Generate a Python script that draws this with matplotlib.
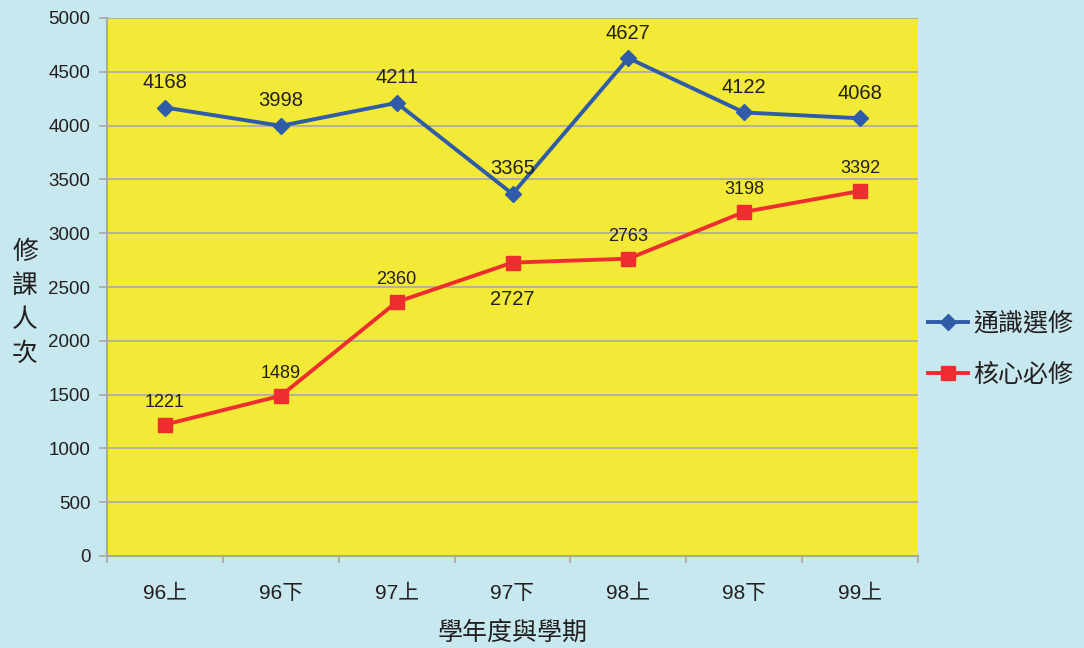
import matplotlib
matplotlib.use("Agg")
import matplotlib.pyplot as plt
import numpy as np

categories = ["96上", "96下", "97上", "97下", "98上", "98下", "99上"]
general = [4168, 3998, 4211, 3365, 4627, 4122, 4068]
core = [1221, 1489, 2360, 2727, 2763, 3198, 3392]
series_names = ["通識選修", "核心必修"]
core_label_below = [False, False, False, True, False, False, False]

FONT = ["Liberation Sans", "Noto Sans CJK TC", "DejaVu Sans"]
CJK = ["Noto Sans CJK TC", "DejaVu Sans"]
plt.rcParams["font.family"] = FONT

BG = "#C6E8EE"
PLOT = "#F2EA36"
BLUE = "#2F5BA8"
RED = "#EE2D30"
GRID = "#A8A8A8"
TXT = "#231F20"

fig = plt.figure(figsize=(10.84, 6.48), dpi=100, facecolor=BG)
ax = fig.add_axes([107/1084, 1-556/648, (918-107)/1084, (556-18)/648])
ax.set_facecolor(PLOT)

x = np.arange(len(categories))
l1, = ax.plot(x, general, color=BLUE, lw=2.8, marker="D", ms=8.5, mfc=BLUE, mec=BLUE, label=series_names[0], zorder=3)
l2, = ax.plot(x, core, color=RED, lw=2.8, marker="s", ms=10, mfc=RED, mec=RED, label=series_names[1], zorder=3)

for xi, v in zip(x, general):
    ax.annotate(str(v), (xi, v), xytext=(0, 14), textcoords="offset points",
                ha="center", va="baseline", fontsize=14.5, color=TXT, zorder=5)
for xi, v, below in zip(x, core, core_label_below):
    if below:
        ax.annotate(str(v), (xi, v), xytext=(0, -20), textcoords="offset points",
                    ha="center", va="top", fontsize=14.5, color=TXT, zorder=5)
    else:
        ax.annotate(str(v), (xi, v), xytext=(0, 13), textcoords="offset points",
                    ha="center", va="baseline", fontsize=13, color=TXT, zorder=5)

ax.set_xlim(-0.5, len(categories) - 0.5)
ax.set_ylim(0, 5000)
ax.set_yticks(np.arange(0, 5001, 500))
ax.set_xticks(x)
ax.set_xticklabels(categories, fontsize=15, color=TXT)
ax.set_xticks(np.arange(-0.5, len(categories), 1), minor=True)
ax.tick_params(axis="x", which="major", length=0, pad=20)
ax.tick_params(axis="x", which="minor", length=5, color=GRID, width=1.2)
ax.tick_params(axis="y", length=6, color=GRID, width=1.2, labelsize=13.5, labelcolor=TXT, pad=6)

ax.grid(axis="y", color=GRID, lw=1.2, zorder=1)
ax.set_axisbelow(True)
for s in ["top", "right"]:
    ax.spines[s].set_visible(False)
for s in ["left", "bottom"]:
    ax.spines[s].set_color(GRID)
    ax.spines[s].set_linewidth(1.5)

fig.text(25/1084, 1-303/648, "修\n課\n人\n次", fontsize=18.5, color=TXT, ha="center", va="center",
         linespacing=1.4, family=CJK, fontweight="medium")
fig.text(513/1084, 1-633/648, "學年度與學期", fontsize=18, color=TXT, ha="center", va="center",
         family=CJK)

leg = fig.legend(handles=[l1, l2], loc="center left", bbox_to_anchor=(928/1084, 1-349/648),
                 frameon=False, handlelength=1.6, handletextpad=0.2, labelspacing=1.0,
                 borderpad=0, borderaxespad=0,
                 prop={"family": CJK, "size": 18})
for t in leg.get_texts():
    t.set_color(TXT)

fig.savefig("out.png", dpi=100, facecolor=BG)
